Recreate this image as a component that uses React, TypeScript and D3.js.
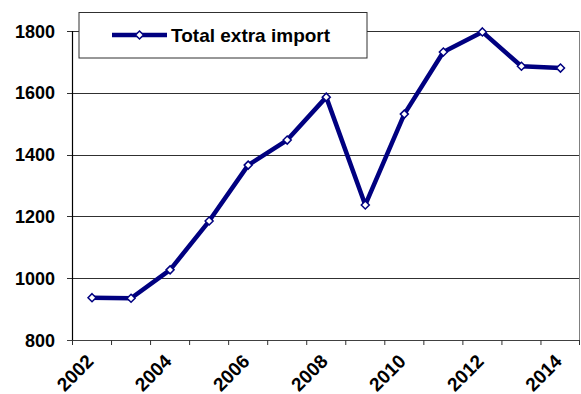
import React from "react";
import * as d3 from "d3";

const years = ["2002","2003","2004","2005","2006","2007","2008","2009","2010","2011","2012","2013","2014"];
const values = [937, 935, 1027, 1185, 1366, 1447, 1586, 1237, 1531, 1732, 1797, 1686, 1680];
const yTicks = [800, 1000, 1200, 1400, 1600, 1800];
const xLabels = ["2002","2004","2006","2008","2010","2012","2014"];
const seriesName = "Total extra import";

export default function App() {
  const W = 581, H = 394;
  const left = 72.5, right = 580, top = 31, bottom = 340;
  const x = d3.scaleBand().domain(years).range([left, right]);
  const y = d3.scaleLinear().domain([800, 1800]).range([bottom, top]);
  const cx = (d: string) => (x(d) as number) + x.bandwidth() / 2;
  const line = d3.line<number>().x((_, i) => cx(years[i])).y(d => y(d));
  const font = "Arial, 'Liberation Sans', sans-serif";
  const diamond = (px: number, py: number) => {
    const s = 4;
    return `M${px},${py - s}L${px + s},${py}L${px},${py + s}L${px - s},${py}Z`;
  };
  return (
    <svg width={W} height={H} style={{ position: "absolute", left: 0, top: 0, background: "#fff" }}>
      {yTicks.map(t => (
        <g key={t}>
          <line x1={67} x2={right} y1={Math.round(y(t)) + 0.5} y2={Math.round(y(t)) + 0.5}
            stroke={t === 800 ? "#404040" : "#303030"} strokeWidth={1} />
          <text x={55} y={y(t) + 6.5} textAnchor="end" fontFamily={font} fontWeight="bold" fontSize={18}>{t}</text>
        </g>
      ))}
      <line x1={right - 0.5} x2={right - 0.5} y1={top} y2={bottom} stroke="#808080" />
      <line x1={left} x2={left} y1={top} y2={bottom + 0.5} stroke="#000" strokeWidth={1.2} />
      {years.map((yr) => (
        <line key={yr} x1={(x(yr) as number)} x2={(x(yr) as number)} y1={bottom} y2={bottom + 5} stroke="#303030" />
      ))}
      <line x1={right - 0.5} x2={right - 0.5} y1={bottom} y2={bottom + 5} stroke="#303030" />
      {xLabels.map(l => (
        <text key={l} transform={`translate(${cx(l) - 7},${bottom + 13}) rotate(-45)`} textAnchor="end"
          dominantBaseline="hanging" fontFamily={font} fontWeight="bold" fontSize={19}>{l}</text>
      ))}
      <path d={line(values) || ""} fill="none" stroke="#000080" strokeWidth={4.5} strokeLinejoin="round" />
      {values.map((v, i) => (
        <path key={i} d={diamond(cx(years[i]), y(v))} fill="#fff" stroke="#000080" strokeWidth={1.5} />
      ))}
      <rect x={79} y={12.5} width={288} height={45.5} fill="#fff" stroke="#303030" strokeWidth={1} />
      <line x1={112} x2={167} y1={35} y2={35} stroke="#000080" strokeWidth={4.5} />
      <path d={diamond(139.5, 35)} fill="#fff" stroke="#000080" strokeWidth={1.5} />
      <text x={171} y={41.5} fontFamily={font} fontWeight="bold" fontSize={19}>{seriesName}</text>
    </svg>
  );
}
